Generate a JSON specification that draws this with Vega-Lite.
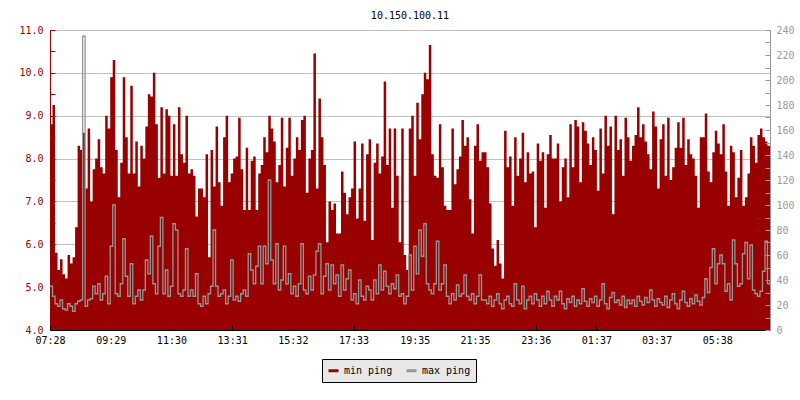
{
"$schema":"https://vega.github.io/schema/vega-lite/v6.json",
"width":720,"height":300,"autosize":"none",
"padding":{"left":50,"top":30,"right":30,"bottom":70},
"background":"white",
"title":{"text":"10.150.100.11","font":"DejaVu Sans Mono","fontSize":10,"fontWeight":"normal","color":"black","anchor":"middle","offset":4},
"config":{"view":{"stroke":null},"font":"DejaVu Sans Mono"},
"data":{"format":{"parse":{"t":"date:'%d %H:%M'"}},"values":[
{"t":"1 07:28","a":8.8,"b":35},{"t":"1 07:33","a":9.25,"b":27},{"t":"1 07:38","a":5.8,"b":21},{"t":"1 07:43","a":5.4,"b":19},{"t":"1 07:48","a":5.65,"b":24},{"t":"1 07:53","a":5.3,"b":17},{"t":"1 07:58","a":5.2,"b":16},{"t":"1 08:03","a":5.75,"b":21},{"t":"1 08:08","a":5.55,"b":19},{"t":"1 08:13","a":5.7,"b":15},{"t":"1 08:18","a":6.4,"b":21},{"t":"1 08:23","a":8.3,"b":23},
{"t":"1 08:28","a":8.2,"b":24},{"t":"1 08:33","a":8.6,"b":235},{"t":"1 08:38","a":7.3,"b":19},{"t":"1 08:43","a":8.7,"b":24},{"t":"1 08:48","a":7.0,"b":25},{"t":"1 08:53","a":7.75,"b":35},{"t":"1 08:58","a":8.0,"b":29},{"t":"1 09:03","a":8.45,"b":37},{"t":"1 09:08","a":7.8,"b":24},{"t":"1 09:13","a":7.65,"b":29},{"t":"1 09:18","a":9.0,"b":43},{"t":"1 09:23","a":8.7,"b":21},
{"t":"1 09:28","a":9.9,"b":67},{"t":"1 09:33","a":10.3,"b":100},{"t":"1 09:38","a":8.2,"b":29},{"t":"1 09:43","a":7.1,"b":27},{"t":"1 09:48","a":7.9,"b":37},{"t":"1 09:53","a":9.9,"b":73},{"t":"1 09:58","a":8.5,"b":43},{"t":"1 10:03","a":7.65,"b":27},{"t":"1 10:08","a":9.7,"b":53},{"t":"1 10:13","a":7.65,"b":21},{"t":"1 10:18","a":8.4,"b":27},{"t":"1 10:23","a":7.35,"b":32},
{"t":"1 10:28","a":8.3,"b":24},{"t":"1 10:33","a":8.0,"b":32},{"t":"1 10:38","a":8.75,"b":56},{"t":"1 10:43","a":9.5,"b":45},{"t":"1 10:48","a":9.45,"b":75},{"t":"1 10:53","a":10.0,"b":37},{"t":"1 10:58","a":8.8,"b":29},{"t":"1 11:03","a":7.55,"b":67},{"t":"1 11:08","a":9.2,"b":90},{"t":"1 11:13","a":7.65,"b":29},{"t":"1 11:18","a":9.15,"b":48},{"t":"1 11:23","a":9.0,"b":27},
{"t":"1 11:28","a":7.6,"b":35},{"t":"1 11:33","a":8.8,"b":85},{"t":"1 11:38","a":7.6,"b":80},{"t":"1 11:43","a":9.2,"b":29},{"t":"1 11:48","a":8.1,"b":27},{"t":"1 11:53","a":7.9,"b":32},{"t":"1 11:58","a":9.0,"b":65},{"t":"1 12:03","a":7.65,"b":27},{"t":"1 12:08","a":7.75,"b":32},{"t":"1 12:13","a":7.6,"b":27},{"t":"1 12:18","a":6.65,"b":45},{"t":"1 12:23","a":7.3,"b":21},
{"t":"1 12:28","a":7.3,"b":19},{"t":"1 12:33","a":7.1,"b":27},{"t":"1 12:38","a":8.1,"b":21},{"t":"1 12:43","a":5.7,"b":29},{"t":"1 12:48","a":8.2,"b":35},{"t":"1 12:53","a":7.35,"b":80},{"t":"1 12:58","a":8.75,"b":35},{"t":"1 13:03","a":7.45,"b":27},{"t":"1 13:08","a":6.9,"b":29},{"t":"1 13:13","a":8.5,"b":32},{"t":"1 13:18","a":9.0,"b":21},{"t":"1 13:23","a":7.45,"b":27},
{"t":"1 13:28","a":7.65,"b":56},{"t":"1 13:33","a":8.0,"b":24},{"t":"1 13:38","a":8.05,"b":27},{"t":"1 13:43","a":8.95,"b":23},{"t":"1 13:48","a":7.75,"b":29},{"t":"1 13:53","a":6.8,"b":32},{"t":"1 13:58","a":8.25,"b":27},{"t":"1 14:03","a":6.8,"b":61},{"t":"1 14:08","a":7.95,"b":48},{"t":"1 14:13","a":8.05,"b":37},{"t":"1 14:18","a":6.8,"b":51},{"t":"1 14:23","a":7.65,"b":67},
{"t":"1 14:28","a":7.85,"b":37},{"t":"1 14:33","a":8.5,"b":67},{"t":"1 14:38","a":8.15,"b":53},{"t":"1 14:43","a":9.0,"b":120},{"t":"1 14:48","a":8.7,"b":56},{"t":"1 14:53","a":8.4,"b":37},{"t":"1 14:58","a":7.45,"b":69},{"t":"1 15:03","a":7.85,"b":32},{"t":"1 15:08","a":8.95,"b":40},{"t":"1 15:13","a":7.35,"b":67},{"t":"1 15:18","a":8.25,"b":37},{"t":"1 15:23","a":8.95,"b":45},
{"t":"1 15:28","a":7.6,"b":29},{"t":"1 15:33","a":8.0,"b":35},{"t":"1 15:38","a":8.5,"b":27},{"t":"1 15:43","a":8.2,"b":37},{"t":"1 15:48","a":8.9,"b":69},{"t":"1 15:53","a":9.0,"b":32},{"t":"1 15:58","a":7.2,"b":29},{"t":"1 16:03","a":8.0,"b":43},{"t":"1 16:08","a":8.2,"b":32},{"t":"1 16:13","a":10.45,"b":44},{"t":"1 16:18","a":7.3,"b":63},{"t":"1 16:23","a":9.4,"b":69},
{"t":"1 16:28","a":8.5,"b":29},{"t":"1 16:33","a":7.85,"b":43},{"t":"1 16:38","a":6.05,"b":53},{"t":"1 16:43","a":7.0,"b":32},{"t":"1 16:48","a":6.8,"b":52},{"t":"1 16:53","a":6.95,"b":37},{"t":"1 16:58","a":6.25,"b":44},{"t":"1 17:03","a":6.25,"b":27},{"t":"1 17:08","a":7.7,"b":52},{"t":"1 17:13","a":7.2,"b":32},{"t":"1 17:18","a":6.7,"b":41},{"t":"1 17:23","a":7.1,"b":48},
{"t":"1 17:28","a":7.3,"b":24},{"t":"1 17:33","a":8.4,"b":29},{"t":"1 17:38","a":6.6,"b":21},{"t":"1 17:43","a":7.3,"b":40},{"t":"1 17:48","a":8.35,"b":27},{"t":"1 17:53","a":6.55,"b":24},{"t":"1 17:58","a":8.1,"b":35},{"t":"1 18:03","a":8.45,"b":32},{"t":"1 18:08","a":6.1,"b":24},{"t":"1 18:13","a":7.9,"b":40},{"t":"1 18:18","a":8.35,"b":29},{"t":"1 18:23","a":7.65,"b":52},
{"t":"1 18:28","a":8.05,"b":32},{"t":"1 18:33","a":9.8,"b":47},{"t":"1 18:38","a":7.85,"b":35},{"t":"1 18:43","a":8.7,"b":29},{"t":"1 18:48","a":6.85,"b":37},{"t":"1 18:53","a":8.7,"b":33},{"t":"1 18:58","a":7.6,"b":44},{"t":"1 19:03","a":6.05,"b":27},{"t":"1 19:08","a":8.7,"b":29},{"t":"1 19:13","a":5.75,"b":21},{"t":"1 19:18","a":5.4,"b":27},{"t":"1 19:23","a":8.7,"b":60},
{"t":"1 19:28","a":9.0,"b":32},{"t":"1 19:33","a":7.6,"b":67},{"t":"1 19:38","a":9.3,"b":45},{"t":"1 19:43","a":8.45,"b":80},{"t":"1 19:48","a":9.5,"b":59},{"t":"1 19:53","a":10.0,"b":85},{"t":"1 19:58","a":9.85,"b":37},{"t":"1 20:03","a":10.65,"b":32},{"t":"1 20:08","a":8.1,"b":29},{"t":"1 20:13","a":7.6,"b":37},{"t":"1 20:18","a":7.55,"b":71},{"t":"1 20:23","a":8.8,"b":32},
{"t":"1 20:28","a":7.8,"b":37},{"t":"1 20:33","a":6.9,"b":52},{"t":"1 20:38","a":6.8,"b":27},{"t":"1 20:43","a":6.8,"b":21},{"t":"1 20:48","a":8.7,"b":29},{"t":"1 20:53","a":7.4,"b":24},{"t":"1 20:58","a":7.75,"b":36},{"t":"1 21:03","a":8.05,"b":27},{"t":"1 21:08","a":8.9,"b":29},{"t":"1 21:13","a":8.3,"b":44},{"t":"1 21:18","a":8.5,"b":27},{"t":"1 21:23","a":7.05,"b":24},
{"t":"1 21:28","a":6.25,"b":29},{"t":"1 21:33","a":8.3,"b":21},{"t":"1 21:38","a":8.8,"b":27},{"t":"1 21:43","a":7.95,"b":44},{"t":"1 21:48","a":8.15,"b":24},{"t":"1 21:53","a":8.15,"b":24},{"t":"1 21:58","a":7.8,"b":21},{"t":"1 22:03","a":6.95,"b":27},{"t":"1 22:08","a":5.9,"b":19},{"t":"1 22:13","a":5.5,"b":24},{"t":"1 22:18","a":6.1,"b":29},{"t":"1 22:23","a":5.55,"b":21},
{"t":"1 22:28","a":5.2,"b":17},{"t":"1 22:33","a":8.65,"b":24},{"t":"1 22:38","a":7.8,"b":27},{"t":"1 22:43","a":8.05,"b":21},{"t":"1 22:48","a":6.9,"b":19},{"t":"1 22:53","a":8.5,"b":37},{"t":"1 22:58","a":7.6,"b":24},{"t":"1 23:03","a":8.0,"b":21},{"t":"1 23:08","a":8.6,"b":35},{"t":"1 23:13","a":7.45,"b":17},{"t":"1 23:18","a":8.15,"b":24},{"t":"1 23:23","a":7.65,"b":27},
{"t":"1 23:28","a":7.7,"b":21},{"t":"1 23:33","a":6.4,"b":29},{"t":"1 23:38","a":8.35,"b":24},{"t":"1 23:43","a":7.95,"b":19},{"t":"1 23:48","a":8.15,"b":27},{"t":"1 23:53","a":6.85,"b":21},{"t":"1 23:58","a":8.1,"b":31},{"t":"2 00:03","a":8.55,"b":24},{"t":"2 00:08","a":8.0,"b":19},{"t":"2 00:13","a":8.0,"b":27},{"t":"2 00:18","a":8.35,"b":24},{"t":"2 00:23","a":7.0,"b":31},
{"t":"2 00:28","a":7.8,"b":21},{"t":"2 00:33","a":8.0,"b":17},{"t":"2 00:38","a":7.1,"b":25},{"t":"2 00:43","a":8.8,"b":22},{"t":"2 00:48","a":7.8,"b":27},{"t":"2 00:53","a":8.9,"b":19},{"t":"2 00:58","a":8.75,"b":24},{"t":"2 01:03","a":7.45,"b":21},{"t":"2 01:08","a":8.85,"b":33},{"t":"2 01:13","a":8.65,"b":23},{"t":"2 01:18","a":8.35,"b":19},{"t":"2 01:23","a":7.85,"b":25},
{"t":"2 01:28","a":8.5,"b":22},{"t":"2 01:33","a":8.2,"b":27},{"t":"2 01:38","a":7.25,"b":19},{"t":"2 01:43","a":8.7,"b":24},{"t":"2 01:48","a":7.65,"b":37},{"t":"2 01:53","a":9.0,"b":21},{"t":"2 01:58","a":8.3,"b":17},{"t":"2 02:03","a":8.75,"b":26},{"t":"2 02:08","a":6.7,"b":30},{"t":"2 02:13","a":9.0,"b":22},{"t":"2 02:18","a":8.2,"b":24},{"t":"2 02:23","a":8.45,"b":20},
{"t":"2 02:28","a":7.6,"b":27},{"t":"2 02:33","a":8.95,"b":18},{"t":"2 02:38","a":8.5,"b":24},{"t":"2 02:43","a":7.95,"b":21},{"t":"2 02:48","a":8.3,"b":24},{"t":"2 02:53","a":8.55,"b":19},{"t":"2 02:58","a":9.2,"b":27},{"t":"2 03:03","a":8.5,"b":23},{"t":"2 03:08","a":8.8,"b":20},{"t":"2 03:13","a":8.4,"b":26},{"t":"2 03:18","a":8.1,"b":22},{"t":"2 03:23","a":7.75,"b":32},
{"t":"2 03:28","a":9.1,"b":24},{"t":"2 03:33","a":8.75,"b":19},{"t":"2 03:38","a":7.3,"b":25},{"t":"2 03:43","a":8.45,"b":22},{"t":"2 03:48","a":8.8,"b":20},{"t":"2 03:53","a":7.6,"b":27},{"t":"2 03:58","a":8.95,"b":18},{"t":"2 04:03","a":7.5,"b":24},{"t":"2 04:08","a":7.8,"b":29},{"t":"2 04:13","a":8.25,"b":21},{"t":"2 04:18","a":8.85,"b":17},{"t":"2 04:23","a":8.25,"b":24},
{"t":"2 04:28","a":8.95,"b":31},{"t":"2 04:33","a":7.85,"b":22},{"t":"2 04:38","a":8.45,"b":19},{"t":"2 04:43","a":8.1,"b":25},{"t":"2 04:48","a":8.0,"b":21},{"t":"2 04:53","a":7.6,"b":28},{"t":"2 04:58","a":6.85,"b":23},{"t":"2 05:03","a":8.5,"b":20},{"t":"2 05:08","a":8.5,"b":26},{"t":"2 05:13","a":9.05,"b":41},{"t":"2 05:18","a":7.7,"b":30},{"t":"2 05:23","a":7.45,"b":50},
{"t":"2 05:28","a":8.15,"b":65},{"t":"2 05:33","a":8.65,"b":37},{"t":"2 05:38","a":8.35,"b":53},{"t":"2 05:43","a":8.1,"b":60},{"t":"2 05:48","a":8.8,"b":53},{"t":"2 05:53","a":7.7,"b":31},{"t":"2 05:58","a":6.9,"b":37},{"t":"2 06:03","a":8.3,"b":24},{"t":"2 06:08","a":8.15,"b":72},{"t":"2 06:13","a":7.1,"b":53},{"t":"2 06:18","a":7.55,"b":35},{"t":"2 06:23","a":8.2,"b":37},
{"t":"2 06:28","a":6.9,"b":61},{"t":"2 06:33","a":7.1,"b":70},{"t":"2 06:38","a":7.65,"b":41},{"t":"2 06:43","a":8.5,"b":68},{"t":"2 06:48","a":8.3,"b":32},{"t":"2 06:53","a":7.9,"b":29},{"t":"2 06:58","a":8.55,"b":27},{"t":"2 07:03","a":8.7,"b":31},{"t":"2 07:08","a":8.5,"b":47},{"t":"2 07:13","a":8.4,"b":71},{"t":"2 07:18","a":8.3,"b":37},{"t":"2 07:23","a":8.15,"b":40}
]},
"encoding":{"x":{"field":"t","type":"temporal","title":null,
 "scale":{"domain":[{"year":1900,"month":1,"date":1,"hours":7,"minutes":28},{"year":1900,"month":1,"date":2,"hours":7,"minutes":23}]},
 "axis":{"format":"%H:%M","grid":false,"domainColor":"black","tickColor":"black","tickSize":-5,"labelPadding":10,"labelFont":"DejaVu Sans Mono","labelFontSize":10,"labelColor":"black","labelFlush":false,"labelOverlap":false,"zindex":1,
  "values":[{"year":1900,"month":1,"date":1,"hours":7,"minutes":28},{"year":1900,"month":1,"date":1,"hours":9,"minutes":29},{"year":1900,"month":1,"date":1,"hours":11,"minutes":30},{"year":1900,"month":1,"date":1,"hours":13,"minutes":31},{"year":1900,"month":1,"date":1,"hours":15,"minutes":32},{"year":1900,"month":1,"date":1,"hours":17,"minutes":33},{"year":1900,"month":1,"date":1,"hours":19,"minutes":35},{"year":1900,"month":1,"date":1,"hours":21,"minutes":35},{"year":1900,"month":1,"date":1,"hours":23,"minutes":36},{"year":1900,"month":1,"date":2,"hours":1,"minutes":37},{"year":1900,"month":1,"date":2,"hours":3,"minutes":37},{"year":1900,"month":1,"date":2,"hours":5,"minutes":38}]}}},
"layer":[
 {"mark":{"type":"area","interpolate":"step-after","color":"#990000","clip":true},
  "encoding":{"y":{"field":"a","type":"quantitative","title":null,"scale":{"domain":[4,11],"zero":false,"nice":false},
   "axis":{"orient":"left","values":[4,4.5,5,5.5,6,6.5,7,7.5,8,8.5,9,9.5,10,10.5,11],"labelExpr":"datum.value % 1 === 0 ? format(datum.value, '.1f') : ''","domainColor":"#990000","tickColor":"#990000","labelColor":"#990000","tickSize":-5,"labelPadding":12,"labelFont":"DejaVu Sans Mono","labelFontSize":10,"gridColor":"#c0c0c0","gridOpacity":{"condition":{"test":"datum.value % 1 !== 0","value":0},"value":1}}},
   "y2":{"datum":4}}},
 {"mark":{"type":"line","interpolate":"step-after","strokeWidth":1.3,"clip":true},
  "encoding":{"y":{"field":"b","type":"quantitative","title":null,"scale":{"domain":[0,240],"nice":false},
   "axis":{"orient":"right","grid":false,"zindex":1,"values":[0,10,20,30,40,50,60,70,80,90,100,110,120,130,140,150,160,170,180,190,200,210,220,230,240],"labelExpr":"datum.value % 20 === 0 ? datum.label : ''","domainColor":"#999999","tickColor":"#999999","labelColor":"#999999","tickSize":-5,"labelPadding":11,"labelFont":"DejaVu Sans Mono","labelFontSize":10}},
   "color":{"datum":"max ping","type":"nominal","scale":{"domain":["min ping","max ping"],"range":["#990000","#969696"]},
    "legend":{"title":null,"orient":"none","legendX":272,"legendY":329,"direction":"horizontal","fillColor":"#e8e8e8","strokeColor":"black","padding":5,"symbolType":"stroke","symbolStrokeWidth":3,"symbolSize":100,"labelFont":"DejaVu Sans Mono","labelFontSize":10,"labelColor":"black","labelOffset":4,"columnPadding":7}}}}
],
"resolve":{"scale":{"y":"independent"}}
}
